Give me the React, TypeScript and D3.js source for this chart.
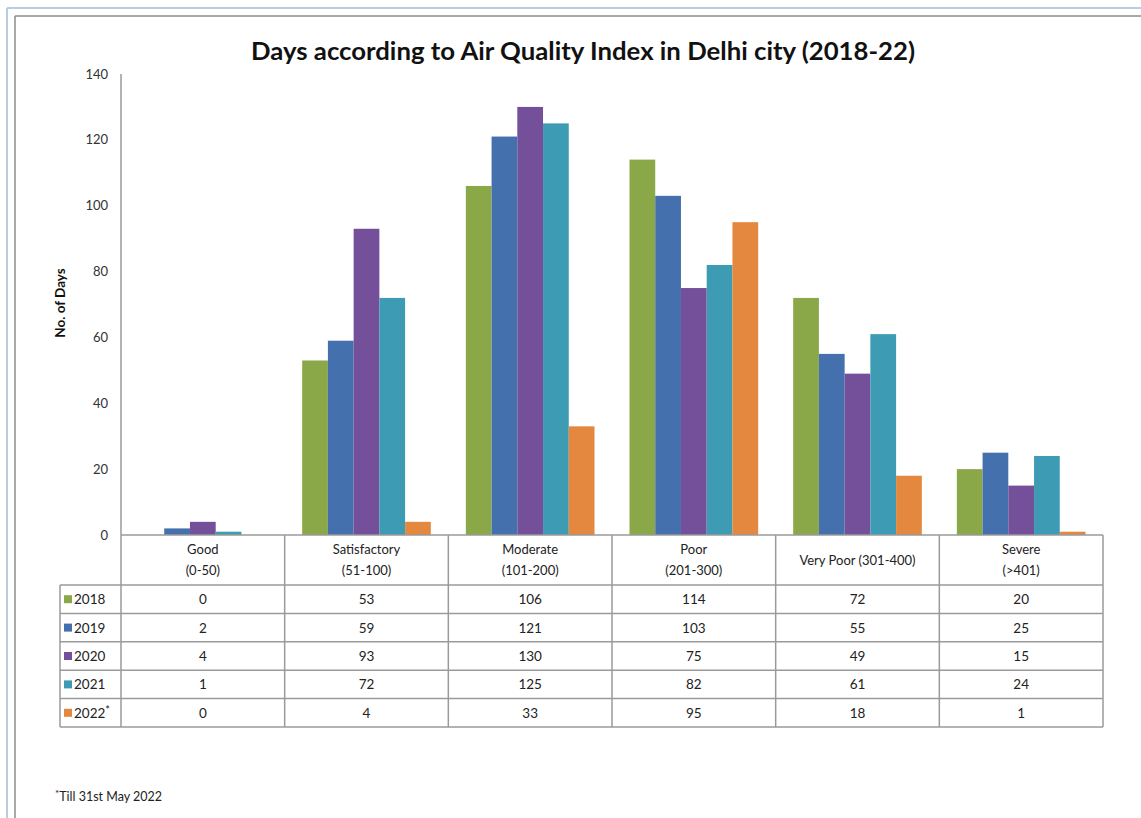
import React from "react";
import * as d3 from "d3";

const categoryLines: string[][] = [
  ["Good", "(0-50)"],
  ["Satisfactory", "(51-100)"],
  ["Moderate", "(101-200)"],
  ["Poor", "(201-300)"],
  ["Very Poor (301-400)"],
  ["Severe", "(>401)"],
];
const categories = categoryLines.map((l) => l.join(" "));
const seriesNames = ["2018", "2019", "2020", "2021", "2022*"];
const seriesColors = ["#8BA849", "#4470AE", "#74509A", "#3E9BB4", "#E3883E"];
const values2018 = [0, 53, 106, 114, 72, 20];
const values2019 = [2, 59, 121, 103, 55, 25];
const values2020 = [4, 93, 130, 75, 49, 15];
const values2021 = [1, 72, 125, 82, 61, 24];
const values2022 = [0, 4, 33, 95, 18, 1];
const seriesValues = [values2018, values2019, values2020, values2021, values2022];
const yTicks = [0, 20, 40, 60, 80, 100, 120, 140];

const title = "Days according to Air Quality Index in Delhi city (2018-22)";
const yTitle = "No. of Days";
const footnote = "Till 31st May 2022";

const FONT = "Lato, 'Open Sans', sans-serif";

export default function App() {
  const W = 1141;
  const H = 818;
  const plotLeft = 121;
  const plotRight = 1103;
  const y0 = 535;
  const yTop = 74;
  const headerBottom = 585;
  const tableBottom = 727;
  const legendLeft = 60;

  const x0 = d3.scaleBand<string>().domain(categories).range([plotLeft, plotRight]).padding(0);
  const step = x0.bandwidth();
  const gap = 17.5;
  const x1 = d3.scaleBand<string>().domain(seriesNames).range([gap, step - gap]).padding(0);
  const y = d3.scaleLinear().domain([0, 140]).range([y0, yTop]);
  const rowH = (tableBottom - headerBottom) / seriesNames.length;
  const rowY = d3.range(seriesNames.length + 1).map((i) => headerBottom + i * rowH);

  const lineColor = "#9a9a9a";

  return (
    <svg
      width={W}
      height={H}
      style={{ position: "absolute", left: 0, top: 0, background: "#fff" }}
      fontFamily={FONT}
    >
      {/* frame */}
      <line x1={7} y1={8} x2={W} y2={8} stroke="#b9cde0" strokeWidth={2} />
      <line x1={7} y1={8} x2={7} y2={H} stroke="#b9cde0" strokeWidth={2} />
      <line x1={15} y1={16} x2={W} y2={16} stroke="#8c8c8c" strokeWidth={1.5} />
      <line x1={15} y1={16} x2={15} y2={H} stroke="#8c8c8c" strokeWidth={1.5} />

      {/* title */}
      <text
        x={583}
        y={60}
        textAnchor="middle"
        fontSize={25}
        fontWeight={700}
        fill="#111"
        textLength={664}
        lengthAdjust="spacingAndGlyphs"
      >
        {title}
      </text>

      {/* y axis title */}
      <text
        transform={`translate(65,${303}) rotate(-90)`}
        textAnchor="middle"
        fontSize={13.5}
        fontWeight={700}
        fill="#111"
      >
        {yTitle}
      </text>

      {/* y tick labels */}
      {yTicks.map((t) => (
        <text key={t} x={108} y={y(t) + 4.5} textAnchor="end" fontSize={13} fill="#333">
          {t}
        </text>
      ))}

      {/* bars */}
      {categories.map((c, ci) => (
        <g key={c} transform={`translate(${x0(c)},0)`}>
          {seriesNames.map((s, si) => {
            const v = seriesValues[si][ci];
            return (
              <rect
                key={s}
                x={x1(s)}
                y={y(v)}
                width={x1.bandwidth()}
                height={y0 - y(v)}
                fill={seriesColors[si]}
              />
            );
          })}
        </g>
      ))}

      {/* y axis line */}
      <line x1={plotLeft} y1={yTop} x2={plotLeft} y2={tableBottom} stroke={lineColor} strokeWidth={1.5} />

      {/* table lines */}
      <line x1={plotLeft} y1={y0} x2={plotRight} y2={y0} stroke={lineColor} strokeWidth={1.5} />
      {rowY.map((ry, i) => (
        <line key={i} x1={legendLeft} y1={ry} x2={plotRight} y2={ry} stroke={lineColor} strokeWidth={1.5} />
      ))}
      <line x1={legendLeft} y1={headerBottom} x2={legendLeft} y2={tableBottom} stroke={lineColor} strokeWidth={1.5} />
      {categories.map((c) => (
        <line
          key={c}
          x1={(x0(c) as number) + step}
          y1={y0}
          x2={(x0(c) as number) + step}
          y2={tableBottom}
          stroke={lineColor}
          strokeWidth={1.5}
        />
      ))}

      {/* header labels */}
      {categoryLines.map((lines, ci) => {
        const cx = (x0(categories[ci]) as number) + step / 2;
        const mid = (y0 + headerBottom) / 2;
        const lh = 21;
        const start = mid - ((lines.length - 1) * lh) / 2;
        return (
          <text key={ci} x={cx} textAnchor="middle" fontSize={13} fill="#222">
            {lines.map((l, li) => (
              <tspan key={li} x={cx} y={start + li * lh + 4.5}>
                {l}
              </tspan>
            ))}
          </text>
        );
      })}

      {/* legend + values */}
      {seriesNames.map((s, si) => {
        const cy = rowY[si] + rowH / 2;
        return (
          <g key={s}>
            <rect x={64} y={cy - 4} width={8} height={8} fill={seriesColors[si]} />
            <text x={74} y={cy + 5} fontSize={13.5} fill="#222">
              {s.replace("*", "")}
              {s.includes("*") ? (
                <tspan fontSize={11} dy={-4}>
                  *
                </tspan>
              ) : null}
            </text>
            {categories.map((c, ci) => (
              <text
                key={c}
                x={(x0(c) as number) + step / 2}
                y={cy + 5}
                textAnchor="middle"
                fontSize={13.5}
                fill="#222"
              >
                {seriesValues[si][ci]}
              </text>
            ))}
          </g>
        );
      })}

      {/* footnote */}
      <text x={55} y={801} fontSize={12.5} fill="#222">
        <tspan fontSize={10} dy={-4}>
          *
        </tspan>
        <tspan dy={4}>{footnote}</tspan>
      </text>
    </svg>
  );
}
